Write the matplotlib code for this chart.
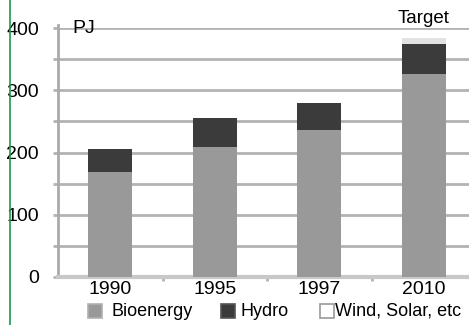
import matplotlib
matplotlib.use("Agg")
import matplotlib.pyplot as plt
from matplotlib.lines import Line2D
from matplotlib.patches import Rectangle
import numpy as np

plt.rcParams['font.family'] = ['Liberation Sans', 'DejaVu Sans']

years = ["1990", "1995", "1997", "2010"]
bioenergy = [168, 209, 236, 326]
hydro = [37, 47, 44, 48]
wind_solar = [0, 0, 0, 11]
series_names = ["Bioenergy", "Hydro", "Wind, Solar, etc"]
series_colors = ["#999999", "#3b3b3b", "#e2e2e2"]

W, H = 469, 325
fig = plt.figure(figsize=(W/100, H/100), dpi=100)
ax = fig.add_axes([58/W, (H-276.7)/H, (476-58)/W, (276.7-28.3)/H])

x = np.arange(len(years))
w = 0.42
ax.bar(x, bioenergy, w, color=series_colors[0], edgecolor="none", zorder=3)
ax.bar(x, hydro, w, bottom=bioenergy, color=series_colors[1], edgecolor="none", zorder=3)
bot2 = [a + b for a, b in zip(bioenergy, hydro)]
ax.bar(x, wind_solar, w, bottom=bot2, color=series_colors[2], edgecolor="none", zorder=3)

ax.set_xlim(-0.5, 3.5)
ax.set_ylim(0, 400)
ax.set_yticks(np.arange(0, 401, 50))
ax.set_yticklabels([str(v) if v % 100 == 0 else "" for v in range(0, 401, 50)], fontsize=14)
ax.yaxis.grid(True, color="#b3b3b3", linewidth=2, zorder=0)
ax.tick_params(axis='y', length=3.6, width=2, color="#b3b3b3", pad=10)
ax.set_xticks(x)
ax.set_xticklabels(years, fontsize=14)
ax.tick_params(axis='x', length=0, pad=3)
ax.set_xticks([0.5, 1.5, 2.5], minor=True)
ax.tick_params(axis='x', which='minor', length=3, width=2, color="#b3b3b3", direction='out')
for s in ["top", "right"]:
    ax.spines[s].set_visible(False)
ax.spines["left"].set_color("#aaaaaa")
ax.spines["left"].set_linewidth(2)
ax.spines["left"].set_bounds(0, 405)
ax.spines["bottom"].set_color("#c8c8c8")
ax.spines["bottom"].set_linewidth(3)
ax.set_facecolor("white")

ax.text(14/418, 1.0, "PJ", transform=ax.transAxes, fontsize=14, va="center", ha="left")
ax.text(3, 402, "Target", fontsize=13.5, ha="center", va="bottom")

# legend (manual placement)
leg_patch_x = [88, 221, 320]
leg_text_x = [111, 241, 335]
leg_edges = ["#b0b0b0", "#555555", "#999999"]
leg_faces = [series_colors[0], series_colors[1], "white"]
for px, tx, name, fc, ec in zip(leg_patch_x, leg_text_x, series_names, leg_faces, leg_edges):
    fig.add_artist(Rectangle((px/W, (H-318)/H), 14/W, 14/H, transform=fig.transFigure,
                             facecolor=fc, edgecolor=ec, linewidth=1.2))
    fig.text(tx/W, (H-311)/H, name, fontsize=13, ha="left", va="center")

fig.add_artist(Line2D([10/W, 10/W], [0, 1], transform=fig.transFigure, color="#1a9a50", linewidth=1.2))

fig.savefig("out.png", dpi=100)
